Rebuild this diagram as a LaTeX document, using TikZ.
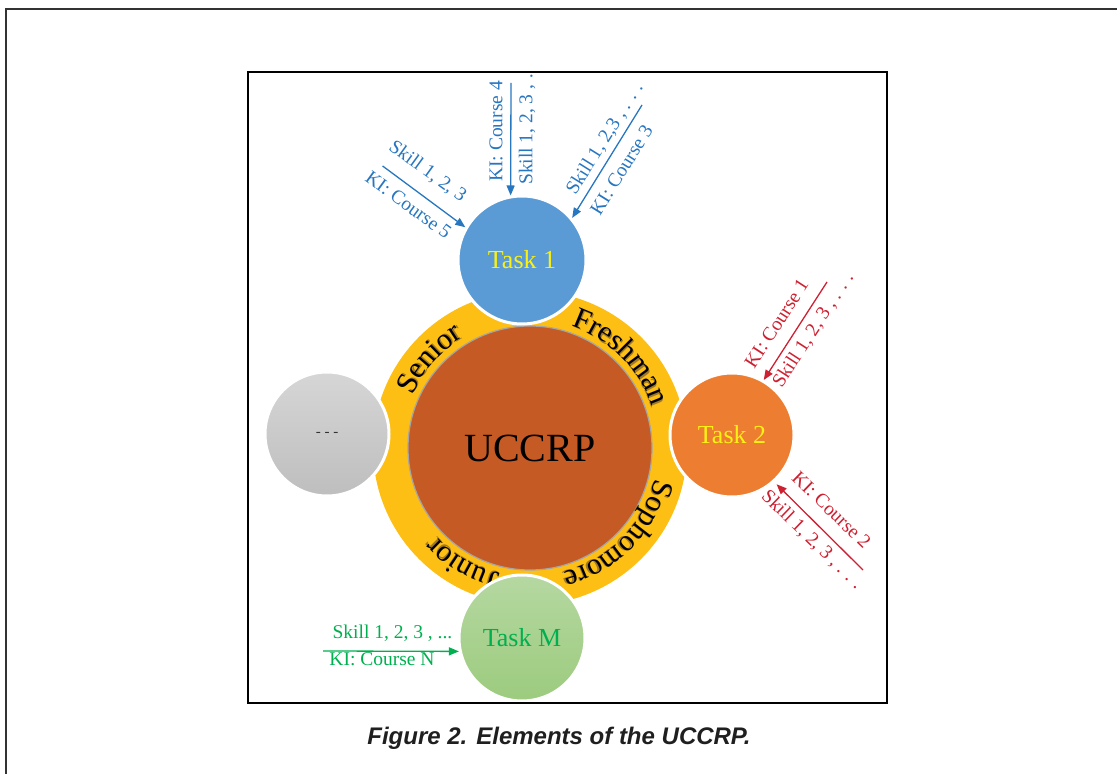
\documentclass[tikz,border=0pt]{standalone}
\usepackage{fontspec}
\setmainfont{Liberation Serif}
\newfontfamily\capfont{Liberation Sans}
\usetikzlibrary{arrows.meta,decorations.text}
\definecolor{blueT}{RGB}{38,118,192}
\definecolor{redT}{RGB}{205,32,48}
\definecolor{greenT}{RGB}{0,176,80}
\definecolor{ringY}{RGB}{253,191,20}
\definecolor{coreO}{RGB}{197,90,36}
\definecolor{tOneB}{RGB}{91,155,213}
\definecolor{tTwoO}{RGB}{237,125,49}
\definecolor{taskY}{RGB}{250,240,20}
\definecolor{gTop}{RGB}{181,216,161}
\definecolor{gBot}{RGB}{156,203,126}
\definecolor{grTop}{RGB}{214,214,214}
\definecolor{grBot}{RGB}{190,190,190}
\definecolor{shadowC}{RGB}{160,120,40}
\begin{document}
\begin{tikzpicture}[x=1pt,y=1pt,
  task/.style={circle, draw=white, line width=3pt, inner sep=0pt, font=\fontsize{26}{26}\selectfont},
  lab/.style={inner sep=0pt, font=\fontsize{19.5}{19.5}\selectfont},
  arr/.style={line width=1.3pt, -{Triangle[length=10pt,width=8pt]}},
  ringtxt/.style={decorate, decoration={text along path, text align=center, text color=black, text={|\fontsize{30}{30}\selectfont|#1}}},
  ringsh/.style={decorate, decoration={text along path, text align=center, text color=shadowC, text={|\fontsize{30}{30}\selectfont|#1}}}
]
\useasboundingbox (0,0) rectangle (1117,774);
\draw[line width=1.6pt, black!80] (6,0) -- (6,765) -- (1117,765);
\begin{scope}
\clip (248,71) rectangle (887,702);
\fill[ringY] (530,326) circle[radius=157];
\node[circle, minimum size=244pt, fill=coreO, draw=gray!70, line width=1.2pt, inner sep=0pt, font=\fontsize{40}{40}\selectfont] (core) at (530,326) {UCCRP};
\begin{scope}[shift={(530,326)}]
\path[ringsh=Senior] (177.9:128.2) arc[start angle=177.9, end angle=97.9, radius=128.2];
\path[ringsh=Freshman] (84.4:128.2) arc[start angle=84.4, end angle=4.4, radius=128.2];
\path[ringsh=Sophomore] (-5.1:128.2) arc[start angle=-5.1, end angle=-85.1, radius=128.2];
\path[ringsh=Junior] (-80.6:128.2) arc[start angle=-80.6, end angle=-160.6, radius=128.2];
\path[ringtxt=Senior] (178.5:129) arc[start angle=178.5, end angle=98.5, radius=129];
\path[ringtxt=Freshman] (85:129) arc[start angle=85, end angle=5, radius=129];
\path[ringtxt=Sophomore] (-4.5:129) arc[start angle=-4.5, end angle=-84.5, radius=129];
\path[ringtxt=Junior] (-80:129) arc[start angle=-80, end angle=-160, radius=129];
\end{scope}
\node[task, fill=tOneB, minimum size=128pt, text=taskY] (t1) at (522,514) {Task 1};
\node[task, fill=tTwoO, minimum size=124pt, text=taskY] (t2) at (732,339) {Task 2};
\node[task, top color=gTop, bottom color=gBot, minimum size=126pt, text=greenT] (tM) at (522,136) {Task M};
\node[task, top color=grTop, bottom color=grBot, minimum size=124pt, font=\fontsize{15}{15}\selectfont, text=black!80] (dots) at (327,340) {- - -};
% blue arrows
\coordinate (b1) at (511,691);
\coordinate (b2) at (382.6,608);
\coordinate (b3) at (642,669);
\draw[arr, blueT] (b1) -- (t1.100);
\draw[arr, blueT] (b2) -- (t1.150);
\draw[arr, blueT] (b3) -- (t1.40);
\node[lab, text=blueT, rotate=90] (l1) at (496,642.5) {KI: Course 4};
\node[lab, text=blueT, rotate=90, anchor=west] (l2) at (527,589) {Skill 1, 2, 3 , \dots};
\node[lab, text=blueT, rotate=-36] (l3) at (427.5,602.5) {Skill 1, 2, 3};
\node[lab, text=blueT, rotate=-36] (l4) at (408.5,569) {KI: Course 5};
\node[lab, text=blueT, rotate=58] (l5) at (605,635.5) {Skill 1, 2,3 , . . .};
\node[lab, text=blueT, rotate=58] (l6) at (621.5,604) {KI: Course 3};
% red arrows
\coordinate (r1) at (827,492);
\coordinate (r2) at (863,204);
\draw[arr, redT] (r1) -- (t2.60);
\draw[arr, redT, shorten >=3pt] (r2) -- (t2.-48);
\node[lab, text=redT, rotate=57] (l7) at (776.5,450.5) {KI: Course 1};
\node[lab, text=redT, rotate=57] (l8) at (813.5,444) {Skill 1, 2, 3 , . . .};
\node[lab, text=redT, rotate=-44] (l9) at (831.5,264) {KI: Course 2};
\node[lab, text=redT, rotate=-44] (l10) at (812,234) {Skill 1, 2, 3 , . . .};
% green arrow
\coordinate (g1) at (323,123);
\draw[arr, greenT] (g1) -- (tM.192);
\node[lab, text=greenT] (l11) at (392.5,141) {Skill 1, 2, 3 , ...};
\node[lab, text=greenT] (l12) at (382,115) {KI: Course N};
\end{scope}
\draw[line width=1.6pt] (248,71) rectangle (887,702);
\node[font=\capfont\bfseries\itshape\fontsize{24}{24}\selectfont, text=black!88] (cap) at (559,36) {Figure 2. Elements of the UCCRP.};
\end{tikzpicture}
\end{document}
